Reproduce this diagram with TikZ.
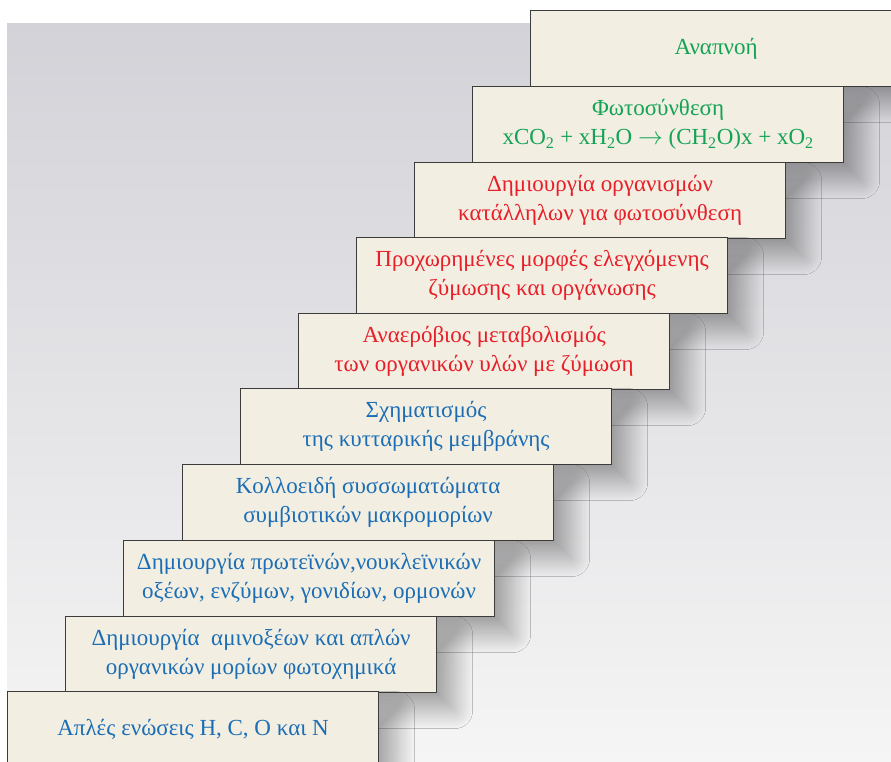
\documentclass[tikz,border=0pt]{standalone}
\usepackage{fontspec}
\setmainfont{Liberation Serif}
\usetikzlibrary{shadows.blur}
\definecolor{stepfill}{RGB}{242,238,226}
\definecolor{stepline}{RGB}{60,60,60}
\definecolor{txtblue}{RGB}{27,110,181}
\definecolor{txtred}{RGB}{232,30,40}
\definecolor{txtgreen}{RGB}{20,163,85}
\definecolor{bgtop}{RGB}{210,210,216}
\definecolor{bgbottom}{RGB}{245,245,245}

\begin{document}
\begin{tikzpicture}[x=1pt,y=-1pt,
	stepbox/.style={draw=stepline,line width=1.2pt,fill=stepfill,
		minimum width=371pt,minimum height=76pt,anchor=north west,
		align=center,inner sep=0pt,font=\fontsize{23}{29}\selectfont,
		blur shadow={shadow xshift=18pt,shadow yshift=-18pt,shadow blur radius=18pt,
			shadow blur steps=24,shadow opacity=32}}]
	\useasboundingbox (0,0) rectangle (891,761);
	%BACKGROUND
	\fill[white] (0,0) rectangle (891,761);
	\shade[top color=bgtop,bottom color=bgbottom] (7,23) rectangle (891,761);
	%STEPS, top one first
	\node[stepbox,text=txtgreen] (s1) at (530,10) {Αναπνοή};
	\node[stepbox,text=txtgreen] (s2) at (472,86) {Φωτοσύνθεση\\xCO\textsubscript{2} + xH\textsubscript{2}O $\to$ (CH\textsubscript{2}O)x + xO\textsubscript{2}};
	\node[stepbox,text=txtred] (s3) at (414,162) {Δημιουργία οργανισμών\\κατάλληλων για φωτοσύνθεση};
	\node[stepbox,text=txtred] (s4) at (356,237) {Προχωρημένες μορφές ελεγχόμενης\\ζύμωσης και οργάνωσης};
	\node[stepbox,text=txtred] (s5) at (298,313) {Αναερόβιος μεταβολισμός\\των οργανικών υλών με ζύμωση};
	\node[stepbox,text=txtblue] (s6) at (240,388) {Σχηματισμός\\της κυτταρικής μεμβράνης};
	\node[stepbox,text=txtblue] (s7) at (182,464) {Κολλοειδή συσσωματώματα\\συμβιοτικών μακρομορίων};
	\node[stepbox,text=txtblue] (s8) at (123,540) {Δημιουργία πρωτεϊνών,νουκλεϊνικών\\οξέων, ενζύμων, γονιδίων, ορμονών};
	\node[stepbox,text=txtblue] (s9) at (65,616) {Δημιουργία\ \ αμινοξέων και απλών\\οργανικών μορίων φωτοχημικά};
	\node[stepbox,text=txtblue] (s10) at (7,691) {Απλές ενώσεις H, C, O και N};
\end{tikzpicture}
\end{document}
